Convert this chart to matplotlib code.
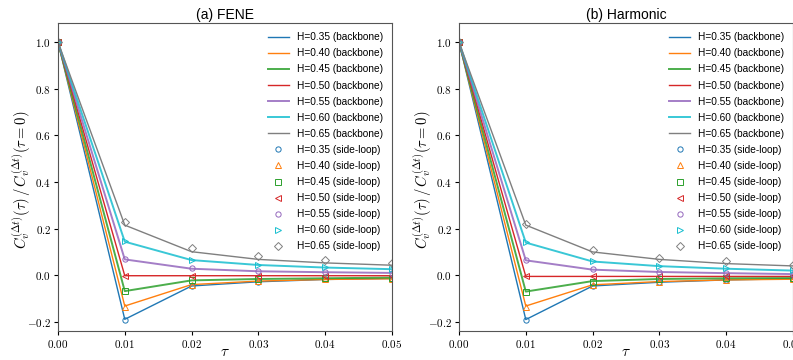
import matplotlib
matplotlib.use("Agg")
import matplotlib.pyplot as plt
from matplotlib.ticker import FuncFormatter

plt.rcParams["mathtext.fontset"] = "cm"
plt.rcParams["font.family"] = "Liberation Sans"

# tempo tau
tau = [0.00, 0.01, 0.02, 0.03, 0.04, 0.05]
H_values = ["0.35", "0.40", "0.45", "0.50", "0.55", "0.60", "0.65"]

# FENE - backbone
fene_backbone = [
    [1.0, -0.189, -0.046, -0.028, -0.018, -0.014],
    [1.0, -0.132, -0.040, -0.025, -0.018, -0.015],
    [1.0, -0.068, -0.022, -0.016, -0.013, -0.010],
    [1.0, -0.002, -0.002, -0.002, -0.002, -0.002],
    [1.0, 0.068, 0.028, 0.017, 0.013, 0.010],
    [1.0, 0.144, 0.065, 0.044, 0.033, 0.026],
    [1.0, 0.215, 0.101, 0.068, 0.053, 0.043],
]
# FENE - side-loop
fene_sideloop = [
    [1.0, -0.192, -0.046, -0.027, -0.017, -0.014],
    [1.0, -0.135, -0.040, -0.024, -0.018, -0.015],
    [1.0, -0.068, -0.021, -0.015, -0.013, -0.011],
    [1.0, -0.002, -0.002, -0.002, -0.002, -0.002],
    [1.0, 0.069, 0.029, 0.018, 0.014, 0.010],
    [1.0, 0.146, 0.066, 0.046, 0.035, 0.027],
    [1.0, 0.227, 0.115, 0.083, 0.064, 0.052],
]

# Harmonic - backbone
harm_backbone = [
    [1.0, -0.190, -0.046, -0.030, -0.020, -0.015],
    [1.0, -0.132, -0.041, -0.027, -0.020, -0.017],
    [1.0, -0.070, -0.025, -0.016, -0.013, -0.012],
    [1.0, -0.005, -0.005, -0.005, -0.005, -0.005],
    [1.0, 0.064, 0.024, 0.014, 0.009, 0.005],
    [1.0, 0.140, 0.059, 0.039, 0.028, 0.020],
    [1.0, 0.215, 0.100, 0.068, 0.050, 0.040],
]
# Harmonic - side-loop
harm_sideloop = [
    [1.0, -0.192, -0.047, -0.030, -0.020, -0.015],
    [1.0, -0.136, -0.041, -0.027, -0.020, -0.017],
    [1.0, -0.072, -0.027, -0.016, -0.013, -0.012],
    [1.0, -0.005, -0.005, -0.005, -0.005, -0.005],
    [1.0, 0.065, 0.025, 0.015, 0.010, 0.005],
    [1.0, 0.142, 0.062, 0.041, 0.031, 0.021],
    [1.0, 0.221, 0.110, 0.076, 0.059, 0.045],
]

colors = ["tab:blue", "tab:orange", "tab:green", "tab:red", "tab:purple", "tab:cyan", "tab:gray"]
markers = ["o", "^", "s", "<", "o", ">", "D"]
line_widths = [1.0, 1.0, 1.4, 1.0, 1.4, 1.4, 1.0]
line_alpha = [1.0, 1.0, 0.85, 1.0, 0.85, 0.85, 1.0]

fig = plt.figure(figsize=(7.93, 3.6), dpi=100)
ax1 = fig.add_axes([0.0731, 0.0806, 0.4212, 0.855])
ax2 = fig.add_axes([0.5788, 0.0806, 0.4212, 0.855])


def draw_panel(ax, backbone, sideloop, title):
    for i, h in enumerate(H_values):
        ax.plot(tau, backbone[i], color=colors[i], lw=line_widths[i], alpha=line_alpha[i],
                label=f"H={h} (backbone)")
    for i, h in enumerate(H_values):
        ms = 4.2 if markers[i] == "D" else 3.8
        ax.plot(tau, sideloop[i], linestyle="none", marker=markers[i], ms=ms,
                mfc="none", mec=colors[i], mew=0.7, label=f"H={h} (side-loop)")
    ax.set_xlim(0, 0.05)
    ax.set_ylim(-0.239, 1.081)
    ax.set_xticks(tau)
    ax.set_yticks([-0.2, 0.0, 0.2, 0.4, 0.6, 0.8, 1.0])
    ax.xaxis.set_major_formatter(FuncFormatter(lambda v, p: f"${v:.2f}$"))
    ax.yaxis.set_major_formatter(FuncFormatter(lambda v, p: f"${v:.1f}$"))
    ax.tick_params(labelsize=8, length=3, width=0.8, pad=2)
    ax.set_xlabel(r"$\tau$", fontsize=11)
    ax.xaxis.set_label_coords(0.5, -0.045)
    ax.set_ylabel(r"$C_v^{(\Delta t)}(\tau)\,/\,C_v^{(\Delta t)}(\tau=0)$", fontsize=10.5)
    ax.yaxis.set_label_coords(-0.075, 0.49)
    ax.set_title(title, fontsize=10, pad=3)
    ax.legend(loc="upper right", frameon=False, fontsize=7.3, labelspacing=0.6,
              handlelength=2.0, borderaxespad=0.5)
    for s in ax.spines.values():
        s.set_color("#555555")


draw_panel(ax1, fene_backbone, fene_sideloop, "(a) FENE")
draw_panel(ax2, harm_backbone, harm_sideloop, "(b) Harmonic")

fig.savefig("out.png", dpi=100)
